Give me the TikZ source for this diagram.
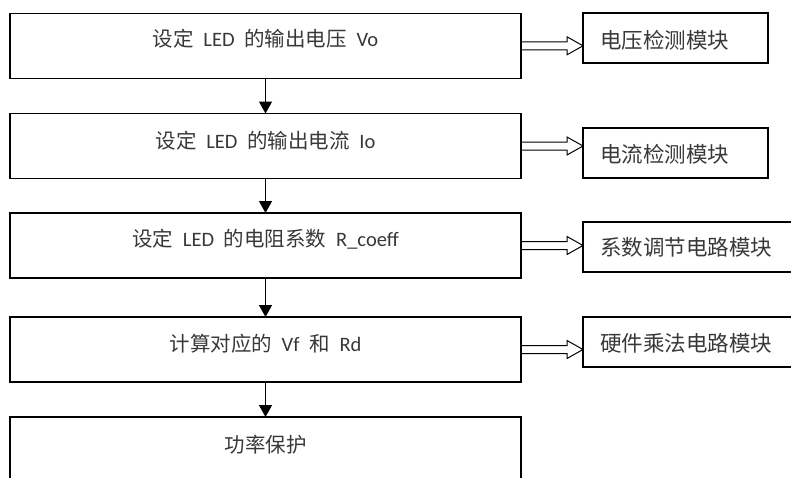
\documentclass[tikz,border=0pt]{standalone}
\usepackage{fontspec}
\setmainfont{Carlito}[WordSpace=2.1]
\newfontfamily\zh{Noto Sans CJK SC}
\usetikzlibrary{arrows.meta, calc}
\tikzset{
    stepbox/.style={rectangle, draw=black, line width=1.5pt, inner sep=0pt, outer sep=0pt, minimum width=511pt, minimum height=65pt},
    modbox/.style={rectangle, draw=black, line width=1.5pt, inner sep=0pt, outer sep=0pt, minimum height=50pt},
    steptext/.style={inner sep=0pt, text height=14.8pt, text depth=0pt, text=black!78, font=\fontsize{20.5}{24}\selectfont},
    modtext/.style={inner sep=0pt, anchor=west, text height=15.5pt, text depth=0pt, text=black!78, font=\zh\fontsize{21.5}{26}\selectfont},
    flow/.style={line width=1.3pt, -{Triangle[width=13pt, length=12pt]}},
    hollow/.style={line width=1pt, line join=miter, to path={let \p1=(\tikztostart), \p2=(\tikztotarget) in
        (\x1,\y1+4pt) -- (\x2-16pt,\y1+4pt) -- (\x2-16pt,\y1+9pt) -- (\x2,\y1) -- (\x2-16pt,\y1-9pt) -- (\x2-16pt,\y1-4pt) -- (\x1,\y1-4pt)}}
}
\begin{document}
\begin{tikzpicture}[x=1pt, y=-1pt]
        \useasboundingbox (0,0) rectangle (791,477);
        \clip (0,0) rectangle (791,477);

        % Steps
        \node[stepbox] (s1) at (265.5, 45.8) {};
        \node[stepbox] (s2) at (265.5, 146) {};
        \node[stepbox] (s3) at (265.5, 245.5) {};
        \node[stepbox] (s4) at (265.5, 349.5) {};
        \node[stepbox] (s5) at (265.5, 449.5) {};

        \node[steptext] (t1) at ([yshift=6.5pt]s1.center) {{\zh 设定} LED {\zh 的输出电压} Vo};
        \node[steptext] (t2) at ([yshift=5pt]s2.center) {{\zh 设定} LED {\zh 的输出电流} Io};
        \node[steptext] (t3) at ([yshift=6.5pt]s3.center) {{\zh 设定} LED {\zh 的电阻系数} R\_coeff};
        \node[steptext] (t4) at ([yshift=5.5pt]s4.center) {{\zh 计算对应的} Vf {\zh 和} Rd};
        \node[steptext] (t5) at ([yshift=4.5pt]s5.center) {{\zh 功率保护}};

        % Modules
        \node[modbox, minimum width=185pt] (r1) at (675.5, 38) {};
        \node[modbox, minimum width=185pt] (r2) at (675.5, 153) {};
        \node[modbox, minimum width=215pt] (r3) at (690.5, 247) {};
        \node[modbox, minimum width=215pt] (r4) at (690.5, 342) {};

        \node[modtext] (m1) at ([xshift=17pt, yshift=-2.5pt]r1.west) {电压检测模块};
        \node[modtext] (m2) at ([xshift=17pt, yshift=-2pt]r2.west) {电流检测模块};
        \node[modtext] (m3) at ([xshift=17pt, yshift=-0.5pt]r3.west) {系数调节电路模块};
        \node[modtext] (m4) at ([xshift=17pt, yshift=-2pt]r4.west) {硬件乘法电路模块};

        % Flow arrows
        \draw[flow] (s1.south) -- (s2.north);
        \draw[flow] (s2.south) -- (s3.north);
        \draw[flow] (s3.south) -- (s4.north);
        \draw[flow] (s4.south) -- (s5.north);

        % Hollow arrows to modules
        \draw[hollow] (s1.east) to (r1.west |- s1.east);
        \draw[hollow] (s2.east) to (r2.west |- s2.east);
        \draw[hollow] (s3.east) to (r3.west |- s3.east);
        \draw[hollow] (s4.east) to (r4.west |- s4.east);
\end{tikzpicture}
\end{document}
